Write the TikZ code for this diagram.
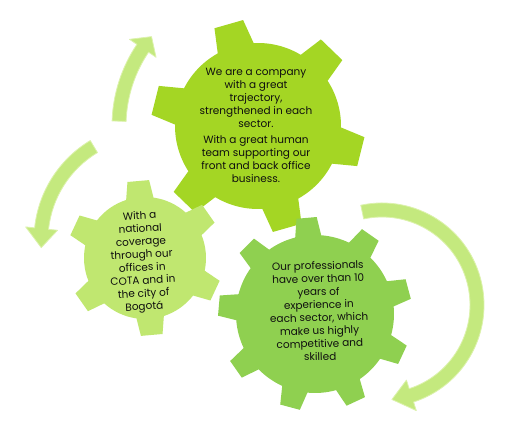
\documentclass[tikz,border=0pt]{standalone}
\usepackage{fontspec}
\setmainfont{Poppins}
\usetikzlibrary{calc}
\definecolor{bigcolor}{RGB}{164,214,36}
\definecolor{leftcolor}{RGB}{192,231,112}
\definecolor{procolor}{RGB}{143,208,80}
\definecolor{arrowcolor}{RGB}{196,233,126}
\definecolor{arrowedge}{RGB}{220,242,172}
\definecolor{textcolor}{RGB}{15,15,15}

% gear: style, center, teeth, first tooth angle, outer r, inner r, outer half angle, inner half angle
\newcommand{\gear}[8]{%
  \fill[#1] ($(#2)+({#4-#8}:#6)$)
    \foreach \k in {1,...,#3} {
      -- ($(#2)+({#4+(\k-1)*360/#3-#7}:#5)$)
      -- ($(#2)+({#4+(\k-1)*360/#3+#7}:#5)$)
      -- ($(#2)+({#4+(\k-1)*360/#3+#8}:#6)$)
      arc[start angle={#4+(\k-1)*360/#3+#8}, end angle={#4+\k*360/#3-#8}, radius={#6*1pt}]
    } -- cycle;
}
% curved arrow: center, radius, start angle, head base angle, tip angle, body half width, head half width
\newcommand{\bentarrow}[7]{%
  \filldraw[arrowbody] ($(#1)+({#3}:{#2+#6})$)
    arc[start angle=#3, end angle=#4, radius={(#2+#6)*1pt}]
    -- ($(#1)+({#4}:{#2+#7})$) -- ($(#1)+({#5}:{#2})$)
    -- ($(#1)+({#4}:{#2-#7})$) -- ($(#1)+({#4}:{#2-#6})$)
    arc[start angle=#4, end angle=#3, radius={(#2-#6)*1pt}] -- cycle;
}

\begin{document}
\begin{tikzpicture}[
    x=1pt, y=1pt,
    arrowbody/.style={fill=arrowcolor, draw=arrowedge, line width=0.8pt, line join=round},
    gtext/.style={align=center, text=textcolor, font=\fontsize{10.5}{13}\selectfont, inner sep=0pt}
]
\useasboundingbox[fill=white] (0,0) rectangle (517,426);

% Gear centres
\coordinate (bigC) at (258,300);
\coordinate (leftC) at (145,168);
\coordinate (proC) at (315,112);

% Gears
\gear{bigcolor}{bigC}{6}{-14}{107}{83}{8}{13}
\gear{leftcolor}{leftC}{6}{35}{78}{61}{8}{13}
\gear{procolor}{proC}{9}{15}{97}{79}{6}{9.5}

% Texts
\node[gtext] (bigTxt) at (256,301) {We are a company\\with a great\\trajectory,\\strengthened in each\\sector.\\[3pt]With a great human\\team supporting our\\front and back office\\business.};
\node[gtext, rotate=3] (leftTxt) at (142,164) {With a\\national\\coverage\\through our\\offices in\\COTA and in\\the city of\\Bogotá};
\node[gtext, rotate=1.5] (proTxt) at (319,115) {Our professionals\\have over than 10\\years of\\experience in\\each sector, which\\make us highly\\competitive and\\skilled};

% Arrows
\bentarrow{bigC}{139}{178}{146}{140}{7}{16}
\bentarrow{150,186}{109}{121}{174}{184}{7}{16}
\bentarrow{382,121}{95}{102}{-72}{-84}{7}{16}

\end{tikzpicture}
\end{document}
